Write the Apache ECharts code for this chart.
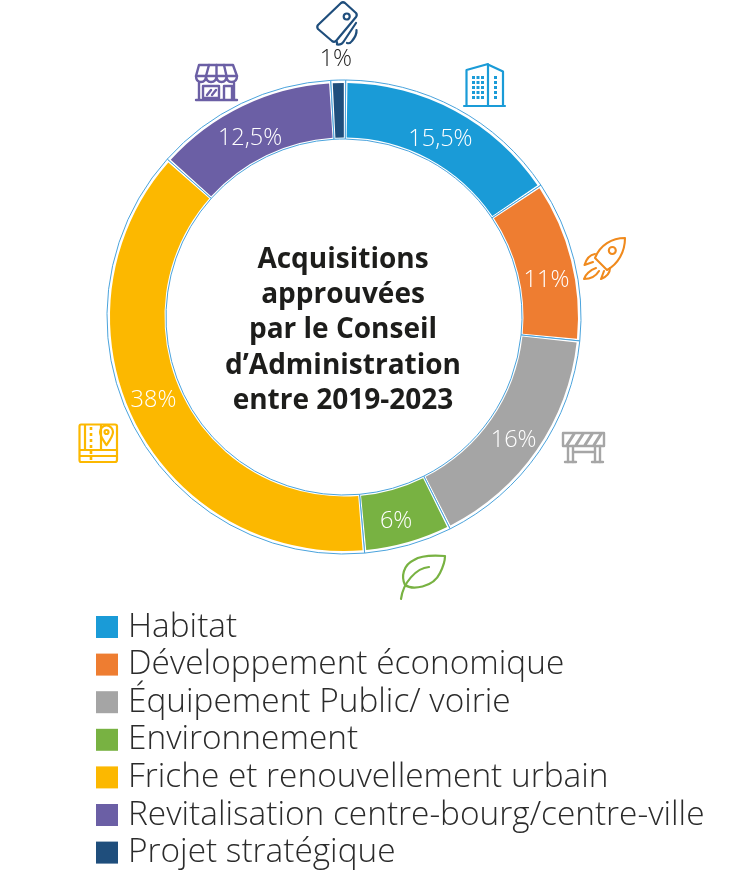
<!DOCTYPE html>
<html><head><meta charset="utf-8">
<style>html,body{margin:0;padding:0;background:#fff}#c{width:750px;height:880px}</style>
<script src="https://cdn.jsdelivr.net/npm/echarts@6/dist/echarts.min.js"></script>
</head><body><div id="c"></div>
<script>
const categories = ['Habitat','Développement économique','Équipement Public/ voirie','Environnement','Friche et renouvellement urbain','Revitalisation centre-bourg/centre-ville','Projet stratégique'];
const values = [15.5,11,16,6,38,12.5,1];
const valueLabels = ['15,5%','11%','16%','6%','38%','12,5%','1%'];
const colors = ['#1a9bd7','#ee7d31','#a5a5a5','#78b242','#fcb800','#6b5fa5','#1f4e7c'];
const titleLines = ['Acquisitions','approuvées','par le Conseil','d’Administration','entre 2019-2023'];

const cx = 344, cy = 317;
const font = '"Open Sans"';
const labelOffsets = [[-3,7],[-1,14],[-3,4],[-5,2],[-3,-11],[-3,10],[-3,-48]];
const chart = echarts.init(document.getElementById('c'), null, {renderer:'canvas'});

function icon(color, paths, width){
  return paths.map(p => ({type:'path', shape:{pathData:p}, silent:true,
    style:{fill:'none', stroke:color, lineWidth:width||2, lineJoin:'round', lineCap:'round'}}));
}
function solid(color, paths){
  return paths.map(p => ({type:'path', shape:{pathData:p}, silent:true, style:{fill:color, stroke:null}}));
}
const icons = [].concat(
  // cards
  icon('#1f4e7c',[
    'M341 3 Q343 1.5 345 3 L356 13 Q357.5 15 356 17 L336 41 Q334 42.5 332 41 L318 29 Q316.5 27 318 25 Z',
    'M346.7 13.5 a3 3 0 1 0 0.01 0 Z',
    'M356 23 L344 41 Q342 45 337 44.5 L337 42',
    'M356.5 30 Q357 35 352 41 Q350 44 347 43'
  ],2.2),
  // building
  icon('#1a9bd7',[
    'M464 106 L505 106',
    'M466.5 106 L466.5 70 L488 64 L488 106',
    'M489 65 L503 71.5 L503 106'
  ],2.2),
  solid('#1a9bd7',[
    'M472 76h3v3h-3zM476.5 76h3v3h-3zM481 76h3v3h-3z',
    'M472 81h3v3h-3zM476.5 81h3v3h-3zM481 81h3v3h-3z',
    'M472 86h3v3h-3zM476.5 86h3v3h-3zM481 86h3v3h-3z',
    'M472 91h3v3h-3zM476.5 91h3v3h-3zM481 91h3v3h-3z',
    'M472 96h3v3h-3zM476.5 96h3v3h-3zM481 96h3v3h-3z',
    'M494 76h3v3h-3zM494 81h3v3h-3zM494 86h3v3h-3zM494 91h3v3h-3zM494 96h3v3h-3z'
  ]),
  // rocket
  icon('#f08a1d',[
    'M625 238 C612 238 600 245 595 258 L607 270 C618 264 625 252 625 238 Z',
    'M612.3 247 a3.5 3.5 0 1 0 0.01 0 Z',
    'M595 254 C589 255 586 260 584.500 265 L593 262',
    'M610 268 C610 274 606 277 601 279 L604 271',
    'M596 268 C590 270 585 275 584 279 C590 279 596 276 599 271'
  ],2.1),
  // barrier
  icon('#a6a6a6',[
    'M563 433 H604 V446 H563 Z',
    'M568 446 V462 M573 446 V462 M595 446 V462 M600 446 V462',
    'M573 452 H595',
    'M565 462 H576 M592 462 H603'
  ],2.4),
  icon('#a6a6a6',[
    'M567 445 L574 434 M576 445 L583 434 M585 445 L592 434 M594 445 L601 434'
  ],3),
  // leaf
  icon('#78b242',[
    'M445 556 C432 555 420 556 414 560 C403 565 401 577 405 585 C412 590 433 588 440 573 C444 565 445 560 445 556 Z',
    'M401 599 C403 583 416 568 429 567'
  ],2.2),
  // map
  icon('#fcb800',[
    'M81 424.500 H115 Q117 424.500 117 426.500 V460 Q117 462 115 462 H81 Q79.500 462 79.500 460 V426.500 Q79.500 424.500 81 424.500 Z',
    'M85 425 V450 M101 425 V450',
    'M80 450 H117 M80 456 H117',
    'M106.500 445 C103 440 100 436 100 432 A6.500 6.500 0 0 1 113 432 C113 436 110 440 106.500 445 Z',
    'M106.500 430 a2 2 0 1 0 0.01 0 Z'
  ],2.2),
  icon('#fcb800',['M91 427 V460'],1.6).map(e => { e.style.lineDash=[3,3]; e.style.lineCap='butt'; e.style.lineWidth=2.6; return e; }),
  // store
  icon('#6b5fa5',[
    'M199 65 H233 L237 76 Q237 82 231.500 82 Q226.500 82 226.500 76 Q226.500 82 221.500 82 Q216.500 82 216.500 76 Q216.500 82 211 82 Q206 82 206 76 Q206 82 201 82 Q196 82 196 76 Z',
    'M196 76 H237',
    'M206 76 L209 65 M216.500 76 V65 M226.500 76 L224 65',
    'M199 83 V99 M234 83 V99',
    'M196 100 H237',
    'M203 86 H219 V98 H203 Z',
    'M224 99 V86 H232 V99',
    'M207 95 L211 90 M212 95 L216 90'
  ],2.4)
);

chart.setOption({
  animation:false,
  color:colors,
  legend:{
    orient:'vertical', left:96, top:610.5, padding:0, height:270, width:650,
    itemWidth:22, itemHeight:22, itemGap:4.6,
    icon:'rect', selectedMode:false,
    data:categories,
    textStyle:{fontFamily:font, fontWeight:300, fontSize:33.4, color:'#2b2b2b', padding:[8,0,0,5]}
  },
  title:{
    text:titleLines.join('\n'), left:338, top:237, textAlign:'center',
    textStyle:{fontFamily:font, fontWeight:700, fontSize:28, lineHeight:35.3, color:'#1d1d1b'}
  },
  series:[
    {
      type:'pie', silent:true, z:1, center:[cx,cy], radius:[178,237], startAngle:89.6, clockwise:true,
      label:{show:false}, labelLine:{show:false}, legendHoverLink:false,
      itemStyle:{color:'#fff', borderColor:'#4aa3dc', borderWidth:1},
      tooltip:{show:false},
      data:categories.map((c,i)=>({name:c+' ', value:values[i]}))
    },
    {
      type:'pie', z:2, center:[cx,cy], radius:[179.5,234], startAngle:89.6, clockwise:true, padAngle:0.9,
      itemStyle:{borderWidth:0},
      labelLine:{show:false},
      data:categories.map((c,i)=>({
        name:c, value:values[i],
        label:{
          show:true, position:'inside', formatter:valueLabels[i],
          fontFamily:font, fontWeight:300, fontSize:23.5,
          color: i===6 ? '#222' : '#fff',
          offset: labelOffsets[i]
        }
      }))
    },
    {
      type:'custom', coordinateSystem:'none', z:3, silent:true, data:[0],
      renderItem:function(){ return {type:'group', children:icons}; }
    }
  ]
});
</script></body></html>
